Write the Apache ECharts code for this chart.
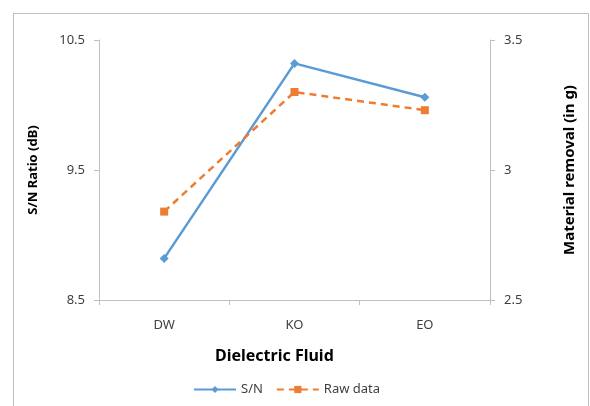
<!DOCTYPE html>
<html style="height: 100%">
<head>
	<meta charset="utf-8">
	<script type="text/javascript" src="https://cdn.jsdelivr.net/npm/echarts@6/dist/echarts.min.js"></script>
	<style>
	.frame{
		position:absolute;
		left:13px; top:13px; right:1px; bottom:-2px;
		border:1px solid #bfbfbf;
		border-bottom:none;
	}
	</style>
</head>
<body style="height: 100%; margin: 0; background:#fff">
	<div class="frame"></div>
	<div id="container" style="height:406px; width:590px; position:absolute; left:0; top:0"></div>
	<script>
	// data
	var fluids = ['DW', 'KO', 'EO'];
	var snRatio = [8.82, 10.32, 10.06];
	var rawData = [2.84, 3.30, 3.23];
	var leftTicks = [8.5, 10.5, 1];   // min, max, interval
	var rightTicks = [2.5, 3.5, 0.5];

	var myChart = echarts.init(document.getElementById('container'));
	var font = "'Noto Sans', sans-serif";
	var option = {
		animation: false,
		grid: {left: 99, right: 100, top: 40, bottom: 106},
		legend: {
			left: 188, top: 378,
			itemWidth: 42, itemHeight: 9, itemGap: 13,
			textStyle: {fontFamily: font, fontSize: 13, color: '#404040'},
			data: ['S/N', 'Raw data']
		},
		graphic: [{
			type: 'text', left: 215, top: 348,
			style: {text: 'Dielectric Fluid', font: "bold 16px " + font, fill: '#000'}
		}],
		xAxis: {
			type: 'category',
			data: fluids,
			axisLine: {lineStyle: {color: '#bfbfbf'}},
			axisTick: {show: true, length: 5, lineStyle: {color: '#bfbfbf'}},
			axisLabel: {fontFamily: font, fontSize: 13, color: '#404040', margin: 19}
		},
		yAxis: [{
			type: 'value',
			min: leftTicks[0], max: leftTicks[1], interval: leftTicks[2],
			name: 'S/N Ratio (dB)',
			nameLocation: 'middle', nameGap: 59, nameRotate: 90,
			nameTextStyle: {fontFamily: font, fontSize: 13, fontWeight: 'bold', color: '#000'},
			axisLine: {show: true, lineStyle: {color: '#bfbfbf'}},
			axisTick: {show: true, length: 5, lineStyle: {color: '#bfbfbf'}},
			splitLine: {show: false},
			axisLabel: {fontFamily: font, fontSize: 13, color: '#404040', margin: 14}
		}, {
			type: 'value',
			position: 'right',
			min: rightTicks[0], max: rightTicks[1], interval: rightTicks[2],
			name: 'Material removal (in g)',
			nameLocation: 'middle', nameGap: 72, nameRotate: 90,
			nameTextStyle: {fontFamily: font, fontSize: 15, fontWeight: 'bold', color: '#000'},
			axisLine: {show: true, lineStyle: {color: '#bfbfbf'}},
			axisTick: {show: true, length: 5, lineStyle: {color: '#bfbfbf'}},
			splitLine: {show: false},
			axisLabel: {fontFamily: font, fontSize: 13, color: '#404040', margin: 14}
		}],
		series: [{
			name: 'S/N',
			type: 'line',
			yAxisIndex: 0,
			data: snRatio,
			symbol: 'diamond', symbolSize: 9,
			itemStyle: {color: '#5b9bd5'},
			lineStyle: {width: 2.5, color: '#5b9bd5'}
		}, {
			name: 'Raw data',
			type: 'line',
			yAxisIndex: 1,
			data: rawData,
			symbol: 'rect', symbolSize: 8,
			itemStyle: {color: '#ed7d31'},
			lineStyle: {width: 2.5, color: '#ed7d31', type: [7, 5]}
		}]
	};
	myChart.setOption(option);
	</script>
</body>
</html>
